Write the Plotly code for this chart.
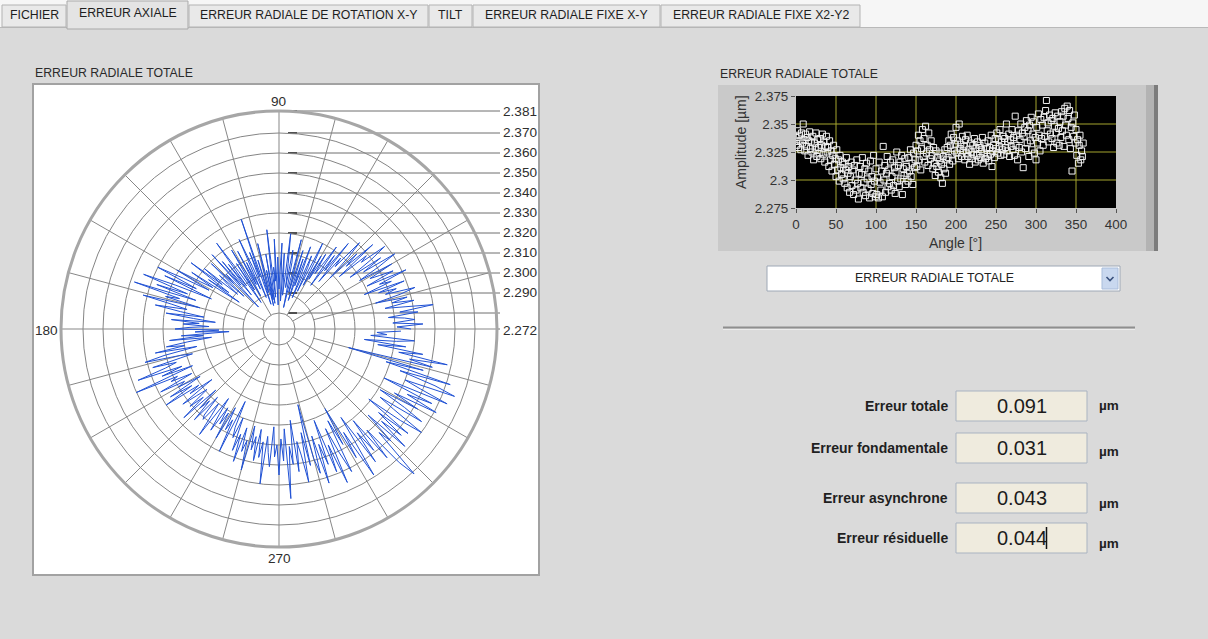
import plotly.graph_objects as go

W, H = 1208, 639

# ---------------------------------------------------------------- data
angle_deg = list(range(0, 360))
amplitude_um = [
    2.338, 2.331, 2.344, 2.329, 2.340, 2.335, 2.327, 2.342, 2.333, 2.350,
    2.336, 2.326, 2.341, 2.330, 2.338, 2.322, 2.335, 2.343, 2.328, 2.334,
    2.325, 2.339, 2.318, 2.333, 2.327, 2.342, 2.321, 2.336, 2.329, 2.324,
    2.337, 2.319, 2.331, 2.341, 2.323, 2.334, 2.316, 2.330, 2.339, 2.325,
    2.329, 2.312, 2.335, 2.318, 2.326, 2.308, 2.322, 2.331, 2.314, 2.319,
    2.303, 2.327, 2.309, 2.318, 2.299, 2.322, 2.311, 2.305, 2.316, 2.301,
    2.314, 2.297, 2.309, 2.320, 2.293, 2.306, 2.312, 2.289, 2.303, 2.316,
    2.295, 2.309, 2.287, 2.313, 2.300, 2.291, 2.318, 2.297, 2.283, 2.306,
    2.312, 2.293, 2.305, 2.320, 2.289, 2.298, 2.310, 2.286, 2.315, 2.301,
    2.292, 2.308, 2.284, 2.317, 2.296, 2.303, 2.288, 2.322, 2.299, 2.285,
    2.310, 2.287, 2.302, 2.284, 2.316, 2.298, 2.291, 2.308, 2.285, 2.330,
    2.300, 2.313, 2.289, 2.306, 2.321, 2.294, 2.309, 2.297, 2.316, 2.291,
    2.303, 2.318, 2.295, 2.311, 2.288, 2.307, 2.325, 2.299, 2.313, 2.294,
    2.316, 2.301, 2.322, 2.287, 2.310, 2.304, 2.319, 2.296, 2.312, 2.306,
    2.299, 2.320, 2.308, 2.327, 2.303, 2.315, 2.296, 2.324, 2.311, 2.318,
    2.331, 2.312, 2.326, 2.340, 2.318, 2.335, 2.309, 2.328, 2.345, 2.321,
    2.337, 2.316, 2.348, 2.324, 2.331, 2.313, 2.342, 2.327, 2.319, 2.335,
    2.322, 2.310, 2.329, 2.315, 2.304, 2.326, 2.312, 2.320, 2.307, 2.317,
    2.324, 2.302, 2.314, 2.297, 2.321, 2.310, 2.327, 2.306, 2.318, 2.329,
    2.320, 2.335, 2.314, 2.331, 2.341, 2.323, 2.317, 2.338, 2.326, 2.332,
    2.347, 2.324, 2.335, 2.319, 2.350, 2.328, 2.332, 2.321, 2.339, 2.326,
    2.330, 2.318, 2.336, 2.324, 2.340, 2.321, 2.327, 2.314, 2.333, 2.325,
    2.319, 2.331, 2.323, 2.337, 2.316, 2.328, 2.322, 2.334, 2.318, 2.329,
    2.331, 2.320, 2.327, 2.338, 2.315, 2.324, 2.333, 2.319, 2.328, 2.321,
    2.335, 2.317, 2.329, 2.323, 2.340, 2.312, 2.326, 2.331, 2.320, 2.337,
    2.328, 2.342, 2.324, 2.336, 2.330, 2.345, 2.322, 2.334, 2.327, 2.339,
    2.323, 2.337, 2.329, 2.350, 2.326, 2.334, 2.341, 2.321, 2.336, 2.330,
    2.345, 2.327, 2.338, 2.322, 2.357, 2.331, 2.340, 2.318, 2.344, 2.329,
    2.336, 2.350, 2.325, 2.342, 2.311, 2.339, 2.347, 2.328, 2.353, 2.333,
    2.344, 2.321, 2.349, 2.335, 2.356, 2.327, 2.341, 2.352, 2.324, 2.338,
    2.318, 2.347, 2.333, 2.359, 2.340, 2.326, 2.354, 2.337, 2.349, 2.331,
    2.356, 2.339, 2.362, 2.371, 2.344, 2.351, 2.334, 2.358, 2.341, 2.353,
    2.337, 2.355, 2.329, 2.348, 2.360, 2.342, 2.333, 2.357, 2.346, 2.331,
    2.352, 2.338, 2.361, 2.344, 2.357, 2.330, 2.364, 2.349, 2.340, 2.366,
    2.355, 2.336, 2.362, 2.328, 2.347, 2.308, 2.351, 2.339, 2.358, 2.333,
    2.345, 2.322, 2.336, 2.315, 2.331, 2.340, 2.318, 2.326, 2.321, 2.333,
]

# polar radial scale and its labelled rings
r_min, r_max = 2.272, 2.381
ring_values = [2.280, 2.290, 2.300, 2.310, 2.320, 2.330, 2.340, 2.350, 2.360, 2.370]
radial_labels = [2.381, 2.370, 2.360, 2.350, 2.340, 2.330, 2.320, 2.310, 2.300, 2.290]
spoke_angles = list(range(0, 360, 15))
angle_labels = ["90", "180", "270"]

# amplitude / angle chart ticks
x_ticks = [0, 50, 100, 150, 200, 250, 300, 350, 400]
y_ticks = [2.275, 2.3, 2.325, 2.35, 2.375]
y_tick_text = ["2.275", "2.3", "2.325", "2.35", "2.375"]

tab_names = ["FICHIER", "ERREUR AXIALE", "ERREUR RADIALE DE ROTATION X-Y", "TILT",
             "ERREUR RADIALE FIXE X-Y", "ERREUR RADIALE FIXE X2-Y2"]
active_tab = 1

indicator_labels = ["Erreur totale", "Erreur fondamentale", "Erreur asynchrone", "Erreur résiduelle"]
indicator_values = [0.091, 0.031, 0.043, 0.044]
indicator_unit = "µm"

graph_title = "ERREUR RADIALE TOTALE"
selector_text = "ERREUR RADIALE TOTALE"

# ---------------------------------------------------------------- helpers (pixel -> paper)
FONT = "Liberation Sans, Arial, sans-serif"


def X(px):
    return px / W


def Y(py):
    return 1 - py / H


shapes = []
annotations = []


def rect(x0, y0, x1, y1, fill, line=None, lw=1):
    shapes.append(dict(type="rect", xref="paper", yref="paper",
                       x0=X(x0), x1=X(x1), y0=Y(y1), y1=Y(y0),
                       fillcolor=fill, layer="below",
                       line=dict(color=line if line else "rgba(0,0,0,0)", width=lw if line else 0)))


def seg(x0, y0, x1, y1, color, lw=1):
    shapes.append(dict(type="line", xref="paper", yref="paper",
                       x0=X(x0), x1=X(x1), y0=Y(y0), y1=Y(y1), layer="below",
                       line=dict(color=color, width=lw)))


def text(x, y, s, size=12, xanchor="left", color="#222", angle=0, bold=False):
    annotations.append(dict(xref="paper", yref="paper", x=X(x), y=Y(y),
                            text=f"<b>{s}</b>" if bold else s, showarrow=False,
                            xanchor=xanchor, yanchor="middle", textangle=angle,
                            font=dict(family=FONT, size=size, color=color)))


# ---------------------------------------------------------------- window chrome
rect(0, 0, W, 27, "#f6f6f6")
seg(0, 27.5, W, 27.5, "#b9b9b9", 1)
tab_edges = [2, 67, 189, 429, 473, 661, 861]
for i, name in enumerate(tab_names):
    x0, x1 = tab_edges[i], tab_edges[i + 1] - 1
    if i == active_tab:
        rect(x0, 1, x1, 29, "#e4e4e4", "#a9a9a9", 1)
    else:
        rect(x0, 5, x1, 27, "#e9e9e9", "#b3b3b3", 1)
    text((x0 + x1) / 2, 15 if i != active_tab else 13, name, 12.3, "center", "#1e1e1e")

# polar graph panel
text(33, 73, graph_title, 12.3, "left", "#2a2a2a")
rect(33, 84, 539, 575, "white", "#a2a2a2", 2)

# amplitude graph frame
text(718, 74, graph_title, 12.3, "left", "#2a2a2a")
rect(718, 85, 1158, 251, "#c9c9c9")
rect(1146, 85, 1154, 251, "#b3b3b3")
rect(1154, 85, 1158, 251, "#7c7c7c")
rect(796, 96, 1116, 208, "black")

# selector ring
rect(767, 266, 1120, 291, "white", "#9ea8b6", 1)
rect(1102, 268, 1118, 289, "#c9d8ef", "#a9bddb", 1)
shapes.append(dict(type="path", xref="paper", yref="paper", layer="below",
                   path=f"M {X(1106.5)} {Y(277)} L {X(1110)} {Y(280.5)} L {X(1113.5)} {Y(277)}",
                   line=dict(color="#3b527e", width=1.6)))
text(934, 278, selector_text, 12.4, "center", "#222")

# separator
seg(723, 327.5, 1135, 327.5, "#8e8e8e", 2)
seg(723, 329.5, 1135, 329.5, "#ececec", 1)

# numeric indicators
box_tops = [391, 433, 483, 523]
unit_y = [406, 451, 503, 543]
for lab, val, top, uy in zip(indicator_labels, indicator_values, box_tops, unit_y):
    rect(956, top, 1087, top + 30, "#efebde", "#a9b3c1", 1)
    text(950, top + 15, lab, 14, "right", "#1f1f1f", bold=True)
    text(1022, top + 15, f"{val:.3f}", 20, "center", "#1c1c1c")
    text(1097, uy, indicator_unit, 13.5, "left", "#1f1f1f", bold=True)
# edit cursor in the last field
seg(1046.5, top + 4, 1046.5, top + 26, "#111", 1.5)

# ---------------------------------------------------------------- polar geometry
cx, cy, R = 279, 329, 218


def ring_y(v):
    return cy - R * (v - r_min) / (r_max - r_min)


# radial scale: leader lines and labels
for v in radial_labels + [2.280]:
    yy = ring_y(v)
    seg(288, yy, 500, yy, "#6f6f6f", 1)
    seg(288, yy, 297, yy, "#2e2e2e", 2 if v == radial_labels[0] else 1.5)
for v in radial_labels:
    text(500.5, ring_y(v), f"{v:.3f}", 13.6, "left", "#2e2e2e")
text(500.5, cy + 1, f"{r_min:.3f}", 13.6, "left", "#2e2e2e")
seg(cx + R, cy, 500, cy, "#6f6f6f", 1)

# angle labels
text(cx, 101, angle_labels[0], 13.6, "center", "#2e2e2e")
text(46, cy + 1, angle_labels[1], 13.6, "center", "#2e2e2e")
text(cx, 558, angle_labels[2], 13.6, "center", "#2e2e2e")

# amplitude chart titles
text(741, 142, "Amplitude [µm]", 14, "center", "#333", angle=-90)
text(955, 243, "Angle [°]", 14, "center", "#333")

# ---------------------------------------------------------------- traces
fig = go.Figure()

sp_theta, sp_r = [], []
for a in spoke_angles:
    if a % 90 == 0:
        start = r_min
    elif a % 30 == 0:
        start = ring_values[0]
    else:
        start = ring_values[1]
    sp_theta += [a, a, None]
    sp_r += [start, r_max, None]
fig.add_trace(go.Scatterpolar(theta=sp_theta, r=sp_r, mode="lines",
                              line=dict(color="#878787", width=1),
                              hoverinfo="skip", showlegend=False))

fig.add_trace(go.Scatterpolar(theta=angle_deg, r=amplitude_um, mode="lines",
                              line=dict(color="#2152d4", width=1), showlegend=False))

fig.add_trace(go.Scatter(x=angle_deg, y=amplitude_um, mode="markers",
                         marker=dict(symbol="square-open", size=6, color="#f2f2f2",
                                     line=dict(width=1, color="#f2f2f2")),
                         showlegend=False))

# yellow grid of the amplitude chart
for xv in x_ticks[1:-1]:
    shapes.append(dict(type="line", xref="x", yref="y domain", x0=xv, x1=xv, y0=0, y1=1,
                       line=dict(color="#a4a42e", width=1), layer="below"))
for yv in y_ticks[1:-1]:
    shapes.append(dict(type="line", xref="x domain", yref="y", x0=0, x1=1, y0=yv, y1=yv,
                       line=dict(color="#a4a42e", width=1), layer="below"))

fig.update_layout(
    template="none",
    width=W, height=H, autosize=False,
    margin=dict(l=0, r=0, t=0, b=0, pad=0, autoexpand=False),
    paper_bgcolor="#dadada", plot_bgcolor="black",
    font=dict(family=FONT, size=12, color="#333"),
    showlegend=False,
    polar=dict(
        domain=dict(x=[X(cx - R), X(cx + R)], y=[Y(cy + R), Y(cy - R)]),
        bgcolor="rgba(0,0,0,0)",
        radialaxis=dict(range=[r_min, r_max], tickvals=ring_values, showticklabels=False,
                        ticks="", showline=False, gridcolor="#858585", gridwidth=1),
        angularaxis=dict(showgrid=False, showticklabels=False, ticks="", showline=True,
                         linecolor="#a6a6a6", linewidth=3, rotation=0,
                         direction="counterclockwise"),
    ),
    xaxis=dict(domain=[X(796), X(1116)], range=[0, 400], tickvals=x_ticks,
               ticks="outside", ticklen=4, tickcolor="#555", showgrid=False,
               zeroline=False, showline=False, fixedrange=True, automargin=False,
               tickfont=dict(size=13.4, color="#333")),
    yaxis=dict(domain=[Y(208), Y(96)], range=[2.275, 2.375], tickvals=y_ticks,
               ticktext=y_tick_text, ticks="outside", ticklen=4, tickcolor="#555",
               showgrid=False, zeroline=False, showline=False, fixedrange=True,
               automargin=False, tickfont=dict(size=13.4, color="#333")),
    shapes=shapes,
    annotations=annotations,
)

# page without body margin so the figure fills the window exactly
fig.write_html("out.html",
               post_script="document.body.style.margin='0';document.body.style.overflow='hidden';")
